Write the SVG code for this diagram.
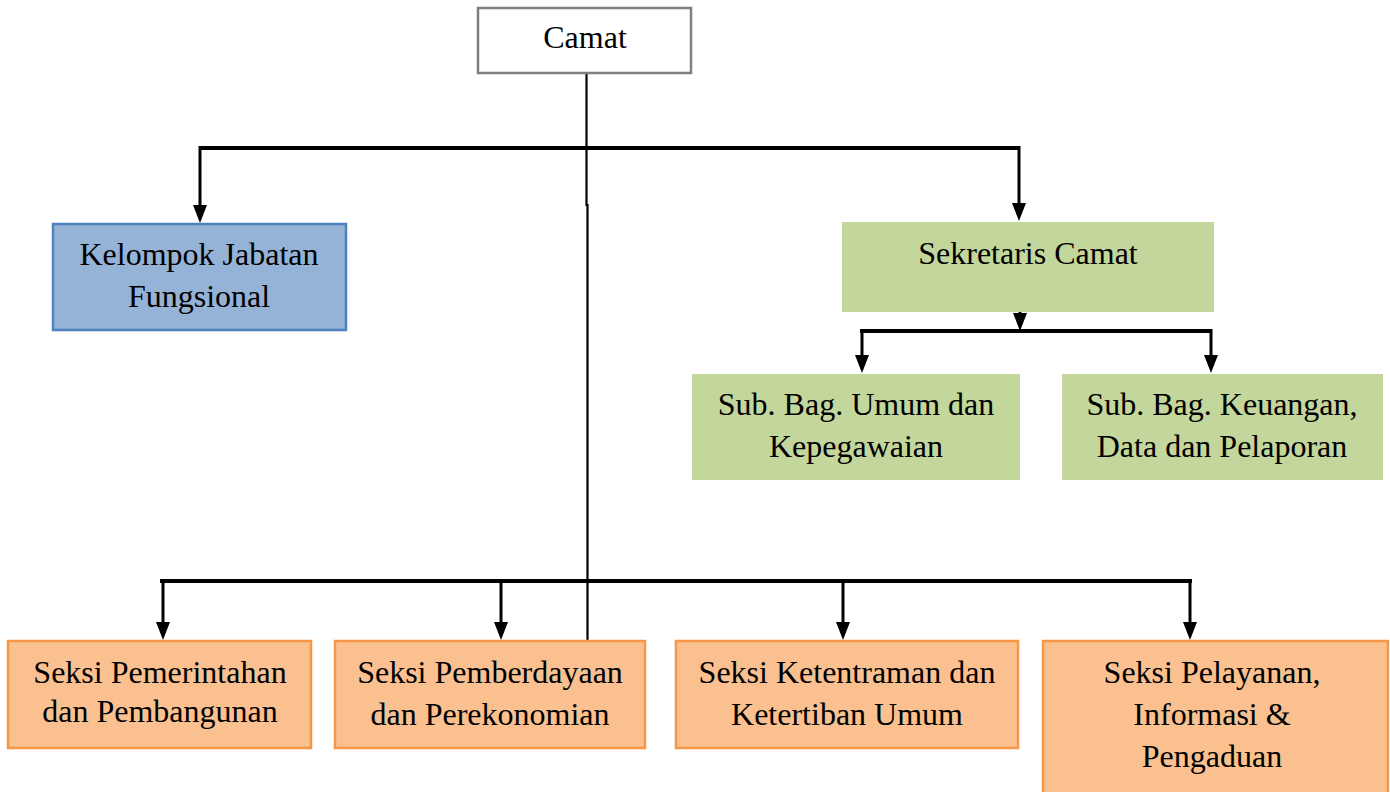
<svg xmlns="http://www.w3.org/2000/svg" width="1390" height="792" viewBox="0 0 1390 792">
<style>
text{font-family:"Liberation Serif","Times New Roman",serif;font-size:32px;fill:#000;text-anchor:middle}
.ln{stroke:#000;fill:none}
.thick{stroke-width:4}
.thin{stroke-width:3}
.main{stroke-width:2.2}
.green{fill:#c3d69b}
.orange{fill:#fac090;stroke:#f79646;stroke-width:2.5}
</style>
<rect width="1390" height="792" fill="#fff"/>
<g id="connectors">
<path class="ln main" d="M586.5,73 L586.5,205 L587.5,205 L587.5,640"/>
<path class="ln thick" d="M200,148 L1019,148"/>
<line class="ln thin" x1="200" y1="146" x2="200" y2="206"/>
<path d="M193,205 L207,205 L200,223 Z"/>
<line class="ln thin" x1="1019" y1="146" x2="1019" y2="205"/>
<path d="M1012,203 L1026,203 L1019,221 Z"/>
<line class="ln thin" x1="1020" y1="288" x2="1020" y2="315"/>
<path d="M1013,313 L1027,313 L1020,331 Z"/>
<path class="ln thick" d="M860,331 L1212,331"/>
<line class="ln thin" x1="862" y1="329" x2="862" y2="356"/>
<path d="M855,355 L869,355 L862,373 Z"/>
<line class="ln thin" x1="1211" y1="329" x2="1211" y2="356"/>
<path d="M1204,355 L1218,355 L1211,373 Z"/>
<path class="ln thick" d="M160,581 L1192,581"/>
<line class="ln thin" x1="163" y1="579" x2="163" y2="624"/>
<path d="M156,622 L170,622 L163,640 Z"/>
<line class="ln thin" x1="501" y1="579" x2="501" y2="624"/>
<path d="M494,622 L508,622 L501,640 Z"/>
<line class="ln thin" x1="843" y1="579" x2="843" y2="624"/>
<path d="M836,622 L850,622 L843,640 Z"/>
<line class="ln thin" x1="1190" y1="579" x2="1190" y2="624"/>
<path d="M1183,622 L1197,622 L1190,640 Z"/>
</g>
<g id="camat">
<rect x="478" y="8" width="213" height="65" fill="#fff" stroke="#7f7f7f" stroke-width="2.5"/>
<text x="585" y="48">Camat</text>
</g>
<g id="kelompok">
<rect x="53" y="224" width="293" height="106" fill="#95b3d7" stroke="#4f81bd" stroke-width="2.5"/>
<text x="199" y="265">Kelompok Jabatan</text>
<text x="199" y="307">Fungsional</text>
</g>
<g id="sekretaris">
<rect class="green" x="842" y="222" width="372" height="90"/>
<text x="1028" y="264">Sekretaris Camat</text>
</g>
<g id="subbag-umum">
<rect class="green" x="692" y="374" width="328" height="106"/>
<text x="856" y="415">Sub. Bag. Umum dan</text>
<text x="856" y="457">Kepegawaian</text>
</g>
<g id="subbag-keuangan">
<rect class="green" x="1062" y="374" width="321" height="106"/>
<text x="1222" y="415">Sub. Bag. Keuangan,</text>
<text x="1222" y="457">Data dan Pelaporan</text>
</g>
<g id="seksi-pemerintahan">
<rect class="orange" x="8" y="641" width="303" height="107"/>
<text x="160" y="683">Seksi Pemerintahan</text>
<text x="160" y="722">dan Pembangunan</text>
</g>
<g id="seksi-pemberdayaan">
<rect class="orange" x="335" y="641" width="310" height="107"/>
<text x="490" y="683">Seksi Pemberdayaan</text>
<text x="490" y="725">dan Perekonomian</text>
</g>
<g id="seksi-ketentraman">
<rect class="orange" x="676" y="641" width="342" height="107"/>
<text x="847" y="683">Seksi Ketentraman dan</text>
<text x="847" y="725">Ketertiban Umum</text>
</g>
<g id="seksi-pelayanan">
<rect class="orange" x="1043" y="641" width="345" height="160"/>
<text x="1212" y="683">Seksi Pelayanan,</text>
<text x="1212" y="725">Informasi &amp;</text>
<text x="1212" y="767">Pengaduan</text>
</g>
</svg>
